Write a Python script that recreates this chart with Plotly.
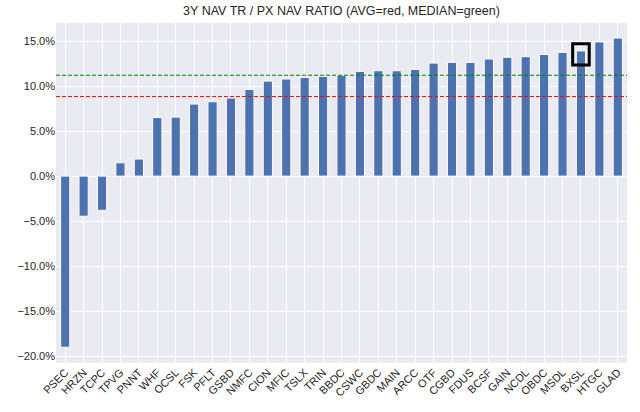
import numpy as np
import plotly.graph_objects as go

tickers = ["PSEC", "HRZN", "TCPC", "TPVG", "PNNT", "WHF", "OCSL", "FSK", "PFLT", "GSBD",
           "NMFC", "CION", "MFIC", "TSLX", "TRIN", "BBDC", "CSWC", "GBDC", "MAIN", "ARCC",
           "OTF", "CGBD", "FDUS", "BCSF", "GAIN", "NCDL", "OBDC", "MSDL", "BXSL", "HTGC", "GLAD"]
ratio_pct = [-19.0, -4.45, -3.8, 1.48, 1.9, 6.5, 6.55, 8.0, 8.26, 8.67,
             9.63, 10.55, 10.78, 10.96, 11.07, 11.2, 11.63, 11.7, 11.7, 11.85,
             12.55, 12.63, 12.63, 13.0, 13.2, 13.26, 13.5, 13.74, 13.9, 14.9, 15.33]
highlight = "BXSL"
y_ticks = [-20, -15, -10, -5, 0, 5, 10, 15]

avg = float(np.mean(ratio_pct))
med = float(np.median(ratio_pct))

fig = go.Figure()
fig.add_trace(go.Bar(
    x=tickers, y=ratio_pct, width=0.5,
    marker=dict(color="#4c72b0", line=dict(color="white", width=1)),
))

def hline(y, color):
    fig.add_shape(type="line", xref="paper", x0=0, x1=1, yref="y", y0=y, y1=y,
                  line=dict(color=color, width=1, dash="4px,2px"))

hline(med, "green")
hline(avg, "red")

hi = tickers.index(highlight)
hv = ratio_pct[hi]
fig.add_shape(type="rect", xref="x", yref="y", x0=hi - 0.45, x1=hi + 0.45,
              y0=hv - 1.55, y1=hv + 0.8, line=dict(color="black", width=3))

fig.update_layout(
    width=640, height=412,
    margin=dict(l=56, r=13, t=23, b=49),
    paper_bgcolor="white", plot_bgcolor="#eaeaf2",
    font=dict(family="Liberation Sans, Arial, sans-serif", size=11, color="#262626"),
    title=dict(text="3Y NAV TR / PX NAV RATIO (AVG=red, MEDIAN=green)",
               x=0.5, xref="paper", xanchor="center", y=0.985, yanchor="top",
               font=dict(size=12.5, color="#262626")),
    showlegend=False, bargap=0.5,
)
fig.update_xaxes(type="category", tickangle=-45, showgrid=True, gridcolor="white",
                 gridwidth=1, range=[-0.5, len(tickers) - 0.5], ticks="",
                 zeroline=False, tickfont=dict(size=11), automargin=False)
fig.update_yaxes(range=[-20.75, 17.0], tickvals=y_ticks,
                 ticktext=[("\u2212" if v < 0 else "") + f"{abs(v):.1f}%" for v in y_ticks],
                 showgrid=True, gridcolor="white", gridwidth=1, zeroline=False, ticks="",
                 tickfont=dict(size=11), automargin=False)

fig.write_html("out.html", config={"displayModeBar": False},
               post_script="document.body.style.margin='0';document.body.style.overflow='hidden';")
